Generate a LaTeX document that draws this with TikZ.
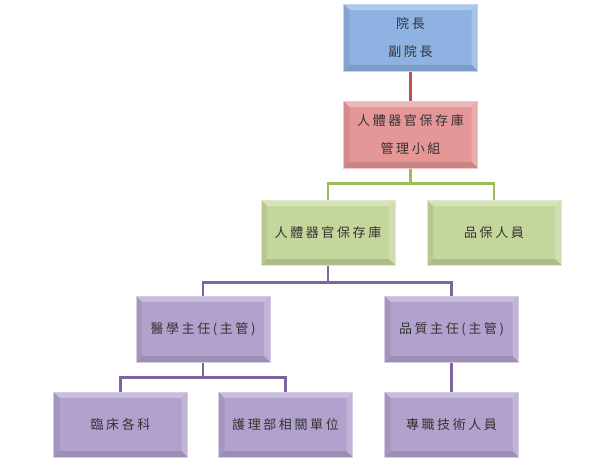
\documentclass[tikz,border=0pt]{standalone}
\usepackage{fontspec}
\setmainfont[LetterSpace=20]{Noto Sans CJK TC}
\usetikzlibrary{calc}
\definecolor{cblue}{RGB}{142,178,226}
\definecolor{cred}{RGB}{229,150,150}
\definecolor{cgreen}{RGB}{196,214,155}
\definecolor{cpurple}{RGB}{178,161,205}
\definecolor{lred}{RGB}{192,80,77}
\definecolor{lgreen}{RGB}{155,187,89}
\definecolor{lpurple}{RGB}{128,100,162}
\tikzset{
  box/.style={fill=#1, draw=#1!55!white, line width=1pt,
    minimum width=134pt, minimum height=65pt, inner sep=0pt,
    font=\fontsize{13pt}{28pt}\selectfont, text=black!80, align=center,
    path picture={
      \fill[#1!70!white] (path picture bounding box.north west) -- (path picture bounding box.north east)
        -- ([xshift=-6pt,yshift=-6pt]path picture bounding box.north east) -- ([xshift=6pt,yshift=-6pt]path picture bounding box.north west) -- cycle;
      \fill[#1!80!white] (path picture bounding box.north east) -- (path picture bounding box.south east)
        -- ([xshift=-6pt,yshift=6pt]path picture bounding box.south east) -- ([xshift=-6pt,yshift=-6pt]path picture bounding box.north east) -- cycle;
      \fill[#1!88!black] (path picture bounding box.south west) -- (path picture bounding box.south east)
        -- ([xshift=-6pt,yshift=6pt]path picture bounding box.south east) -- ([xshift=6pt,yshift=6pt]path picture bounding box.south west) -- cycle;
      \fill[#1!93!black] (path picture bounding box.north west) -- (path picture bounding box.south west)
        -- ([xshift=6pt,yshift=6pt]path picture bounding box.south west) -- ([xshift=6pt,yshift=-6pt]path picture bounding box.north west) -- cycle;
    }},
  conn/.style={line width=2.6pt, draw=#1}
}
\begin{document}
\begin{tikzpicture}[x=1pt,y=-1pt]
\useasboundingbox (0,0) rectangle (616,464);
\node[box=cblue, minimum height=67pt] (top) at (410.5,37.5) {院長\\副院長};
\node[box=cred, minimum height=67pt] (mgmt) at (410.5,134.5) {人體器官保存庫\\管理小組};
\node[box=cgreen] (bank) at (328,232.5) {人體器官保存庫};
\node[box=cgreen] (qa) at (494,232.5) {品保人員};
\node[box=cpurple, minimum height=66pt] (med) at (203,329) {醫學主任(主管)};
\node[box=cpurple, minimum height=66pt] (qual) at (451.5,329) {品質主任(主管)};
\node[box=cpurple] (clin) at (120.5,424.5) {臨床各科};
\node[box=cpurple] (nurse) at (285.5,424.5) {護理部相關單位};
\node[box=cpurple] (tech) at (451.5,424.5) {專職技術人員};

\draw[conn=lred] (top.south) -- (mgmt.north);
\draw[conn=lgreen] (mgmt.south) -- ++(0,15) coordinate (gj);
\draw[conn=lgreen] (gj) -| (bank.north);
\draw[conn=lgreen] (gj) -| (qa.north);
\draw[conn=lpurple] (bank.south) -- ++(0,17) coordinate (pj);
\draw[conn=lpurple] (pj) -| (med.north);
\draw[conn=lpurple] (pj) -| (qual.north);
\draw[conn=lpurple] (med.south) -- ++(0,15) coordinate (bj);
\draw[conn=lpurple] (bj) -| (clin.north);
\draw[conn=lpurple] (bj) -| (nurse.north);
\draw[conn=lpurple] (qual.south) -- (tech.north);
\end{tikzpicture}
\end{document}
